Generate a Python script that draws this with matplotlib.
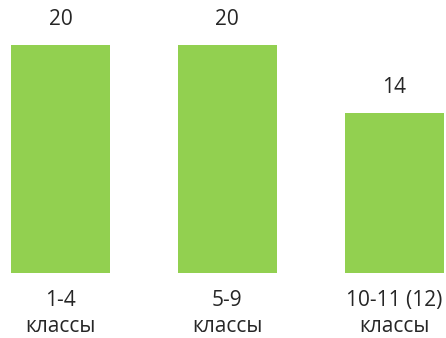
import matplotlib
matplotlib.use("Agg")
import matplotlib.pyplot as plt

categories = ["1-4\nклассы", "5-9\nклассы", "10-11 (12)\nклассы"]
values = [20, 20, 14]

plt.rcParams['font.family'] = ['Open Sans', 'DejaVu Sans']

fig = plt.figure(figsize=(4.46, 3.38), dpi=100)
ax = fig.add_axes([0, 65 / 338, 1, 228 / 338])

x = list(range(len(values)))
bars = ax.bar(x, values, width=0.593, color='#92D050')

for b, v in zip(bars, values):
    ax.annotate(str(v), (b.get_x() + b.get_width() / 2, v),
                xytext=(0, 18.5), textcoords='offset points',
                ha='center', va='center', fontsize=15, color='#262626')

ax.set_xlim(-60.5 / 167, 2 + 52 / 167)
ax.set_ylim(0, 20)
ax.set_xticks(x)
ax.set_xticklabels(categories, fontsize=15, color='#262626', linespacing=1.35)
ax.tick_params(axis='x', length=0, pad=12)
ax.set_yticks([])
for s in ax.spines.values():
    s.set_visible(False)

fig.savefig("out.png", dpi=100)
